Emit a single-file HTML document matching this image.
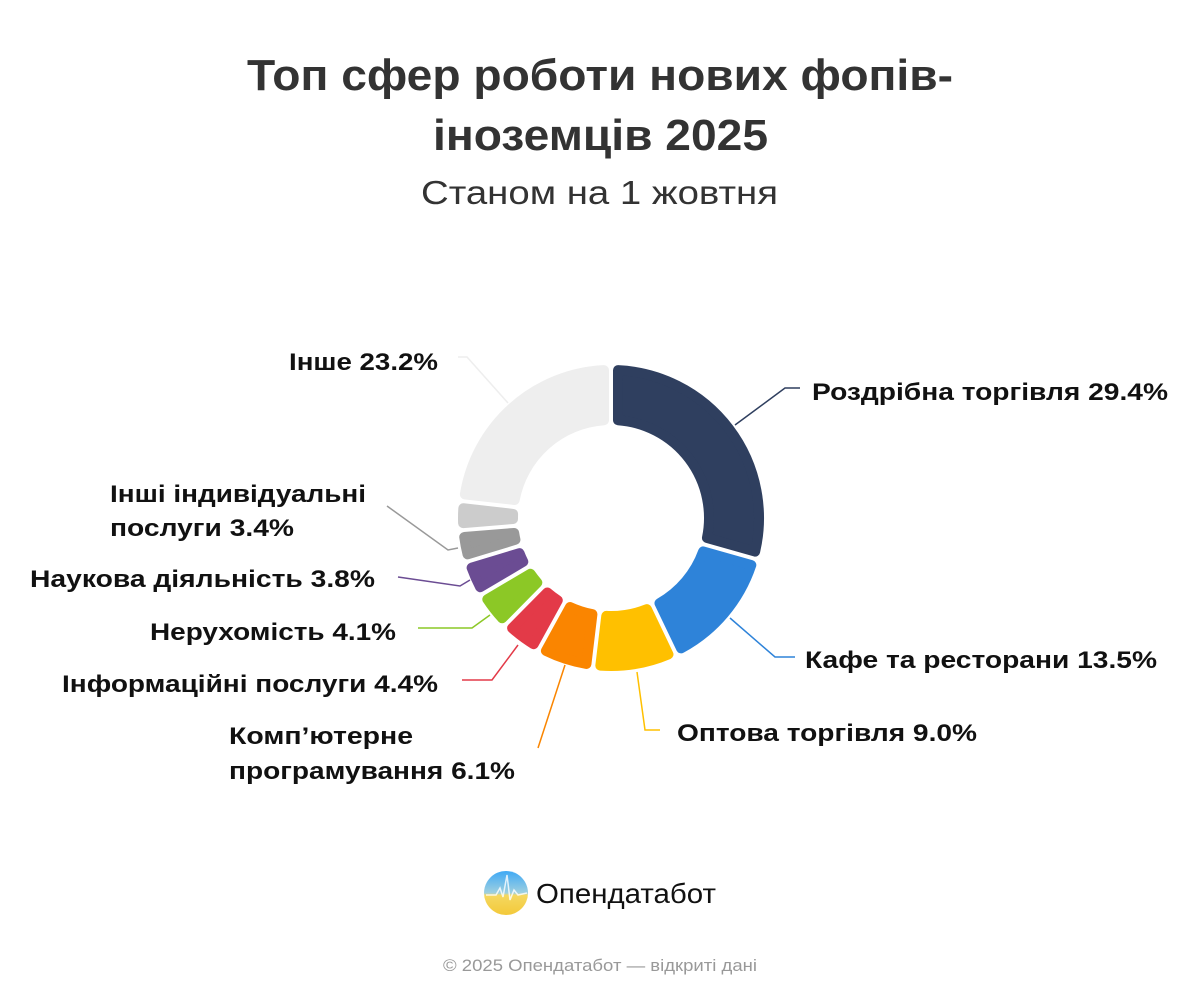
<!DOCTYPE html>
<html><head><meta charset="utf-8"><style>
body{margin:0;width:1200px;height:1000px;background:#fff;font-family:"Liberation Sans",sans-serif;overflow:hidden}
svg text{font-family:"Liberation Sans",sans-serif}
</style></head><body>
<svg id="s" width="1200" height="1000" xmlns="http://www.w3.org/2000/svg">
<g lengthAdjust="spacingAndGlyphs">
<text x="247" y="90" font-size="44" font-weight="bold" fill="#333" textLength="706" lengthAdjust="spacingAndGlyphs">Топ сфер роботи нових фопів-</text>
<text x="433" y="150" font-size="44" font-weight="bold" fill="#333" textLength="335" lengthAdjust="spacingAndGlyphs">іноземців 2025</text>
<text x="421" y="204" font-size="33" fill="#333" textLength="357" lengthAdjust="spacingAndGlyphs">Станом на 1 жовтня</text>
</g>
<g id="slices"></g>
<g fill="none" stroke-width="1.5">
<polyline points="735,425 785,388 800,388" stroke="#2f3f5f"/>
<polyline points="730,618 775,657 795,657" stroke="#2e83d9"/>
<polyline points="637,672 645,730 660,730" stroke="#ffc000"/>
<polyline points="565,665 538,748" stroke="#fa8500"/>
<polyline points="518,645 492,680 462,680" stroke="#e33a48"/>
<polyline points="490,615 472,628 418,628" stroke="#8cc826"/>
<polyline points="470,580 460,586 398,577" stroke="#6b4c93"/>
<polyline points="458,548 448,550 387,506" stroke="#999"/>
<polyline points="508,403 467,357 458,357" stroke="#eee"/>
</g>
<g font-size="24" font-weight="bold" fill="#111">
<text x="812" y="400" textLength="356" lengthAdjust="spacingAndGlyphs">Роздрібна торгівля 29.4%</text>
<text x="805" y="668" textLength="352" lengthAdjust="spacingAndGlyphs">Кафе та ресторани 13.5%</text>
<text x="677" y="741" textLength="300" lengthAdjust="spacingAndGlyphs">Оптова торгівля 9.0%</text>
<text x="229" y="744" textLength="184" lengthAdjust="spacingAndGlyphs">Комп’ютерне</text>
<text x="229" y="779" textLength="286" lengthAdjust="spacingAndGlyphs">програмування 6.1%</text>
<text x="62" y="692" textLength="376" lengthAdjust="spacingAndGlyphs">Інформаційні послуги 4.4%</text>
<text x="150" y="640" textLength="246" lengthAdjust="spacingAndGlyphs">Нерухомість 4.1%</text>
<text x="30" y="587" textLength="345" lengthAdjust="spacingAndGlyphs">Наукова діяльність 3.8%</text>
<text x="110" y="502" textLength="256" lengthAdjust="spacingAndGlyphs">Інші індивідуальні</text>
<text x="110" y="536" textLength="184" lengthAdjust="spacingAndGlyphs">послуги 3.4%</text>
<text x="289" y="370" textLength="149" lengthAdjust="spacingAndGlyphs">Інше 23.2%</text>
</g>
<defs><linearGradient id="lg" x1="0" y1="0" x2="0" y2="1"><stop offset="0" stop-color="#3fa9f5"/><stop offset="0.5" stop-color="#9fd0e0"/><stop offset="0.55" stop-color="#f5d860"/><stop offset="1" stop-color="#f3c93a"/></linearGradient></defs>
<circle cx="506" cy="893" r="22" fill="url(#lg)"/>
<polyline points="486,895 496,895 500,888 503,897 507,875 510,900 514,890 518,895 527,893" fill="none" stroke="#fff" stroke-width="1.5" opacity="0.8"/>
<text x="536" y="903" font-size="28" fill="#111" textLength="180" lengthAdjust="spacingAndGlyphs">Опендатабот</text>
<text x="443" y="971" font-size="17" fill="#999" textLength="314" lengthAdjust="spacingAndGlyphs">© 2025 Опендатабот — відкриті дані</text>
</svg>
<script>
var cx=611,cy=518,R=153,r=93,cr=5,gap=2;
var d=[[29.4,"#2f3f5f"],[13.5,"#2e83d9"],[9.0,"#ffc000"],[6.1,"#fa8500"],[4.4,"#e33a48"],[4.1,"#8cc826"],[3.8,"#6b4c93"],[3.4,"#999999"],[3.1,"#cccccc"],[23.2,"#eeeeee"]];
var tot=0;d.forEach(function(e){tot+=e[0]});
var a=0,g=document.getElementById("slices"),h="";
function p(rad,ang){return (cx+rad*Math.sin(ang)).toFixed(2)+","+(cy-rad*Math.cos(ang)).toFixed(2)}
d.forEach(function(e){
 var a0=a/tot*2*Math.PI,a1=(a+e[0])/tot*2*Math.PI;a+=e[0];
 var off=cr+gap,Ro=R-cr,Ri=r+cr;
 var o0=a0+off/Ro,o1=a1-off/Ro,i0=a0+off/Ri,i1=a1-off/Ri;
 var lg=(o1-o0)>Math.PI?1:0;
 var s="M"+p(Ro,o0)+" A"+Ro+","+Ro+" 0 "+lg+" 1 "+p(Ro,o1)+" L"+p(Ri,i1)+" A"+Ri+","+Ri+" 0 "+lg+" 0 "+p(Ri,i0)+" Z";
 h+='<path d="'+s+'" fill="'+e[1]+'" stroke="'+e[1]+'" stroke-width="'+(2*cr)+'" stroke-linejoin="round"/>';
});
g.innerHTML=h;
</script>
</body></html>
